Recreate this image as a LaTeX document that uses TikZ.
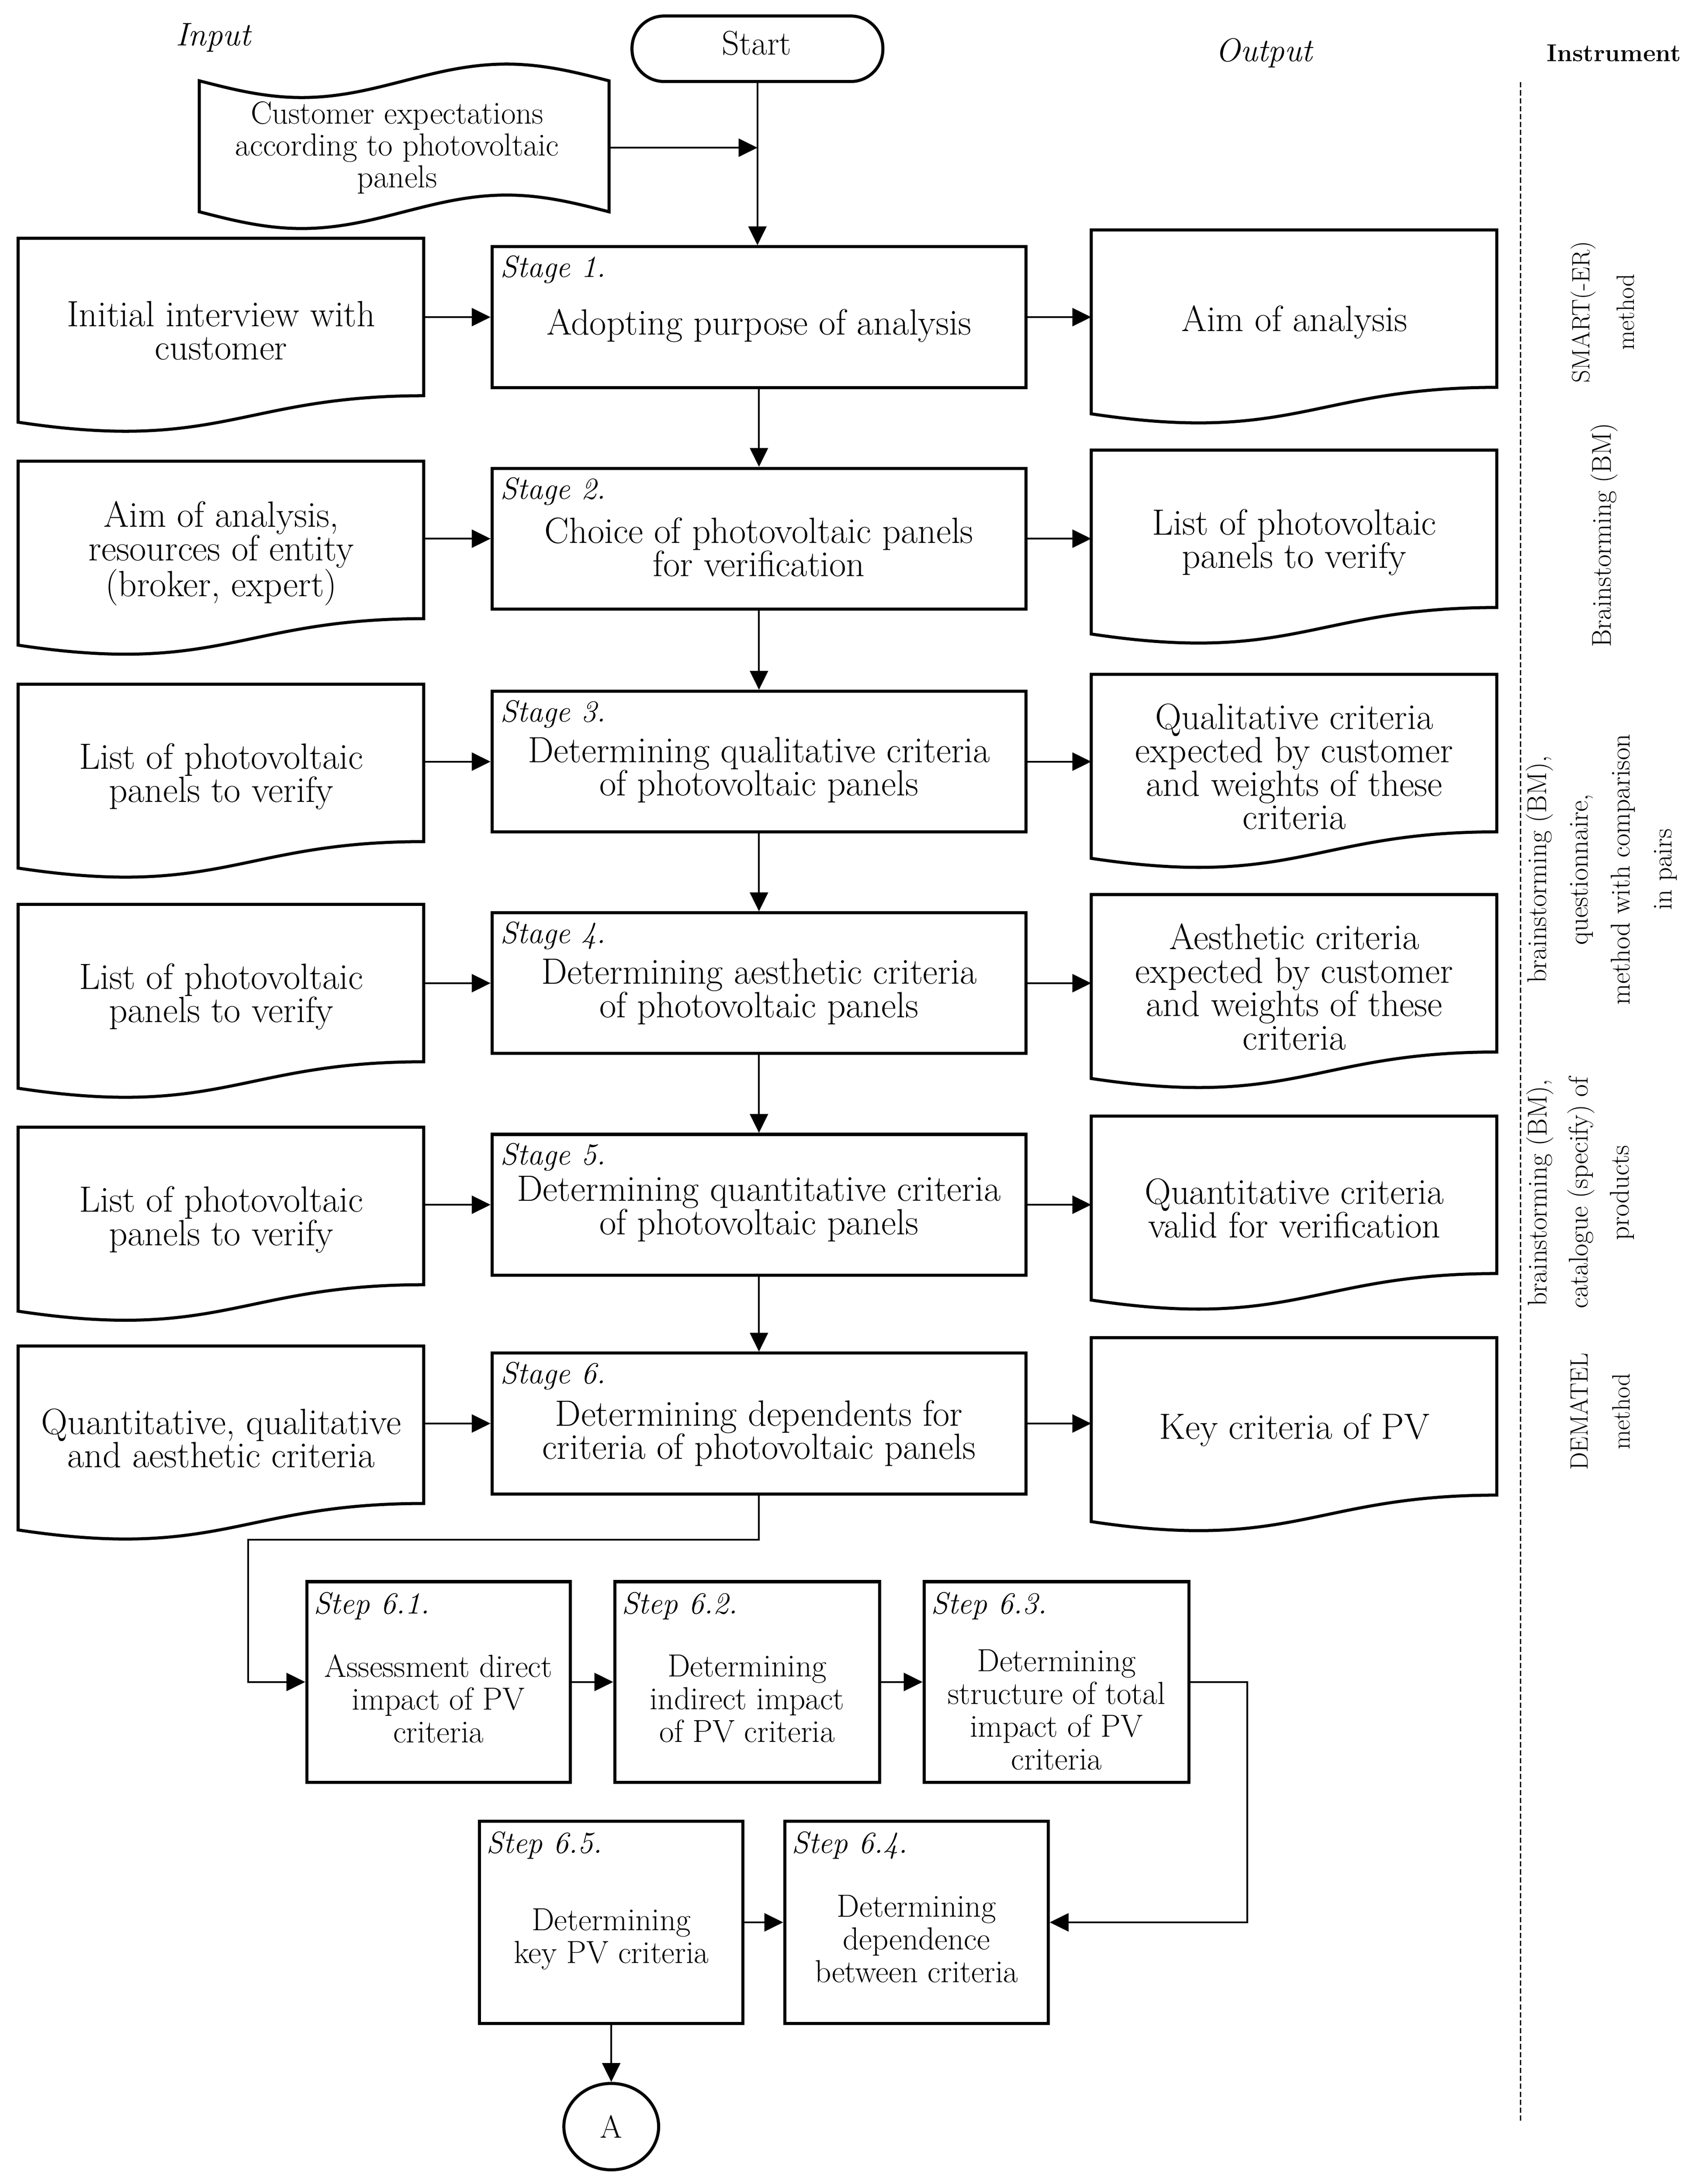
\documentclass[tikz,border=0pt]{standalone}
\usetikzlibrary{arrows.meta,calc,shapes.geometric}
\newcommand{\docpath}[2]{%
  \begin{scope}[shift={(#1,#2)}]
    \draw[shapeline] (0,0) -- (291,0) -- (291,113) .. controls (160,113) and (145.5,154) .. (0,132) -- cycle;
  \end{scope}}
\begin{document}
\begin{tikzpicture}[x=1pt,y=-1pt,
  shapeline/.style={draw=black,line width=2.2pt,line join=miter},
  conn/.style={draw=black,line width=1.2pt},
  arr/.style={conn,-{Triangle[length=13.5pt,width=13pt]}},
  bigtext/.style={font=\fontsize{26.2}{24}\selectfont,align=center,inner sep=0pt},
  smalltext/.style={font=\fontsize{22.9}{23.5}\selectfont,align=center,inner sep=0pt},
  lab/.style={font=\fontsize{22}{22}\selectfont\itshape,inner sep=0pt,anchor=base west},
  docnode/.style={minimum width=291pt,minimum height=132pt,inner sep=0pt,anchor=north west,bigtext},
  stagebox/.style={shapeline,minimum width=383pt,minimum height=101pt,inner sep=0pt,anchor=north west},
  stepbox/.style={shapeline,minimum width=190pt,minimum height=144pt,inner sep=0pt,anchor=north west},
  instr/.style={font=\fontsize{19.5}{30}\selectfont,align=center,rotate=90,inner sep=0pt},
]
\useasboundingbox (0,0) rectangle (1219,1567.4);

% header
\node[font=\fontsize{23.5}{23.5}\selectfont\itshape,inner sep=0pt] (inp) at (153,27) {Input};
\node[font=\fontsize{23.5}{23.5}\selectfont\itshape,inner sep=0pt] (outp) at (907,38) {Output};
\node[font=\fontsize{17.5}{17.5}\selectfont\bfseries,inner sep=0pt] (instrh) at (1158,38) {Instrument};

\node[shapeline,rectangle,rounded corners=23pt,minimum width=180pt,minimum height=47pt,inner sep=0pt] (start) at (543.5,35) {};
\node[font=\fontsize{24.5}{24.5}\selectfont,inner sep=0pt] (starttxt) at (543,31) {Start};

% tape
\draw[shapeline] (143,58) sin (216.5,70) cos (290,58) sin (363.5,46) cos (437,58) -- (437,152)
   sin (363.5,140) cos (290,152) sin (216.5,164) cos (143,152) -- cycle;
\node[minimum width=294pt,minimum height=94pt,inner sep=0pt] (cust) at (290,106) {};
\node[font=\fontsize{22.9}{23}\selectfont,align=center,inner sep=0pt] (custtxt) at (285,106)
  {Customer expectations\\according to photovoltaic\\panels};

% dashed separator
\coordinate (dtop) at (1091,59);
\coordinate (dbot) at (1091,1522);
\draw[draw=black,line width=1.1pt,dash pattern=on 3.8pt off 1.9pt] (dtop) -- (dbot);

% input documents
\docpath{13}{171}\node[docnode] (in1) at (13,171) {Initial interview with\\customer};
\docpath{13}{331}\node[docnode] (in2) at (13,331) {Aim of analysis,\\resources of entity\\(broker, expert)};
\docpath{13}{491}\node[docnode] (in3) at (13,491) {List of photovoltaic\\panels to verify};
\docpath{13}{649}\node[docnode] (in4) at (13,649) {List of photovoltaic\\panels to verify};
\docpath{13}{809}\node[docnode] (in5) at (13,809) {List of photovoltaic\\panels to verify};
\docpath{13}{966}\node[docnode] (in6) at (13,966) {Quantitative, qualitative\\and aesthetic criteria};

% output documents
\docpath{783}{165}\node[docnode] (out1) at (783,165) {Aim of analysis};
\docpath{783}{323}\node[docnode] (out2) at (783,323) {List of photovoltaic\\panels to verify};
\docpath{783}{484}\node[docnode] (out3) at (783,484) {Qualitative criteria\\expected by customer\\and weights of these\\criteria};
\docpath{783}{642}\node[docnode] (out4) at (783,642) {Aesthetic criteria\\expected by customer\\and weights of these\\criteria};
\docpath{783}{801}\node[docnode] (out5) at (783,801) {Quantitative criteria\\valid for verification};
\docpath{783}{960}\node[docnode] (out6) at (783,960) {Key criteria of PV};

% stages
\node[stagebox] (st1) at (352,176) {};
\node[stagebox] (st2) at (352,335) {};
\node[stagebox] (st3) at (352,495) {};
\node[stagebox] (st4) at (352,654) {};
\node[stagebox] (st5) at (352,813) {};
\node[stagebox] (st6) at (352,970) {};
\node[bigtext] (st1t) at ($(st1.center)+(0,6)$) {Adopting purpose of analysis};
\node[bigtext] (st2t) at ($(st2.center)+(0,6)$) {Choice of photovoltaic panels\\for verification};
\node[bigtext] (st3t) at ($(st3.center)+(0,6)$) {Determining qualitative criteria\\of photovoltaic panels};
\node[bigtext] (st4t) at ($(st4.center)+(0,6)$) {Determining aesthetic criteria\\of photovoltaic panels};
\node[bigtext] (st5t) at ($(st5.center)+(0,3)$) {Determining quantitative criteria\\of photovoltaic panels};
\node[bigtext] (st6t) at ($(st6.center)+(0,7)$) {Determining dependents for\\criteria of photovoltaic panels};
\node[lab] (st1l) at ($(st1.north west)+(7,23)$) {Stage 1.};
\node[lab] (st2l) at ($(st2.north west)+(7,23)$) {Stage 2.};
\node[lab] (st3l) at ($(st3.north west)+(7,23)$) {Stage 3.};
\node[lab] (st4l) at ($(st4.north west)+(7,23)$) {Stage 4.};
\node[lab] (st5l) at ($(st5.north west)+(7,23)$) {Stage 5.};
\node[lab] (st6l) at ($(st6.north west)+(7,23)$) {Stage 6.};

% steps
\node[stepbox,minimum width=189pt] (s61) at (219,1134) {};
\node[stepbox] (s62) at (440,1134) {};
\node[stepbox] (s63) at (662,1134) {};
\node[stepbox,minimum width=189pt,minimum height=145pt] (s65) at (343,1306) {};
\node[stepbox,minimum width=189pt,minimum height=145pt] (s64) at (562,1306) {};
\node[lab] (s61l) at ($(s61.north west)+(6,24)$) {Step 6.1.};
\node[lab] (s62l) at ($(s62.north west)+(6,24)$) {Step 6.2.};
\node[lab] (s63l) at ($(s63.north west)+(6,24)$) {Step 6.3.};
\node[lab] (s65l) at ($(s65.north west)+(6,24)$) {Step 6.5.};
\node[lab] (s64l) at ($(s64.north west)+(6,24)$) {Step 6.4.};
\node[smalltext] (s61t) at ($(s61.center)+(0,12)$) {Assessment direct\\impact of PV\\criteria};
\node[smalltext] (s62t) at ($(s62.center)+(0,12)$) {Determining\\indirect impact\\of PV criteria};
\node[smalltext] (s63t) at ($(s63.center)+(0,20)$) {Determining\\structure of total\\impact of PV\\criteria};
\node[smalltext] (s65t) at ($(s65.center)+(0,12)$) {Determining\\key PV criteria};
\node[smalltext] (s64t) at ($(s64.center)+(0,12)$) {Determining\\dependence\\between criteria};

\node[shapeline,ellipse,minimum width=68pt,minimum height=62pt,inner sep=0pt,font=\fontsize{23}{23}\selectfont] (A) at ($(s65.south)+(0,73)$) {A};

% instruments
\node[instr,font=\fontsize{18}{32}\selectfont] (i1) at (1150,224) {SMART(-ER)\\method};
\node[instr] (i2) at (1151,384) {Brainstorming (BM)};
\node[instr] (i3) at (1149,624) {brainstorming (BM),\\questionnaire,\\method with comparison\\in pairs};
\node[instr,font=\fontsize{19.5}{29.5}\selectfont] (i4) at (1134,856) {brainstorming (BM),\\catalogue (specify) of\\products};
\node[instr,font=\fontsize{18}{30}\selectfont] (i5) at (1148,1013) {DEMATEL\\method};

% connectors
\draw[arr] (start.south) -- (start.south |- st1.north);
\draw[arr] (cust.east) -- (cust.east -| start.south);
\foreach \i in {1,...,6}{
  \draw[arr] (in\i.east |- st\i.west) -- (st\i.west);
  \draw[arr] (st\i.east) -- (st\i.east -| out\i.west);
}
\draw[arr] (st1.south) -- (st2.north);
\draw[arr] (st2.south) -- (st3.north);
\draw[arr] (st3.south) -- (st4.north);
\draw[arr] (st4.south) -- (st5.north);
\draw[arr] (st5.south) -- (st6.north);
\coordinate (k1) at (178,1105);
\draw[arr] (st6.south) |- (k1) |- (s61.west);
\draw[arr] (s61.east) -- (s62.west);
\draw[arr] (s62.east) -- (s63.west);
\coordinate (k2) at (895,1206);
\draw[arr] (s63.east) -- (s63.east -| k2) |- (s64.east);
\draw[arr] (s65.east) -- (s64.west);
\draw[arr] (s65.south) -- (A.north);
\end{tikzpicture}
\end{document}
